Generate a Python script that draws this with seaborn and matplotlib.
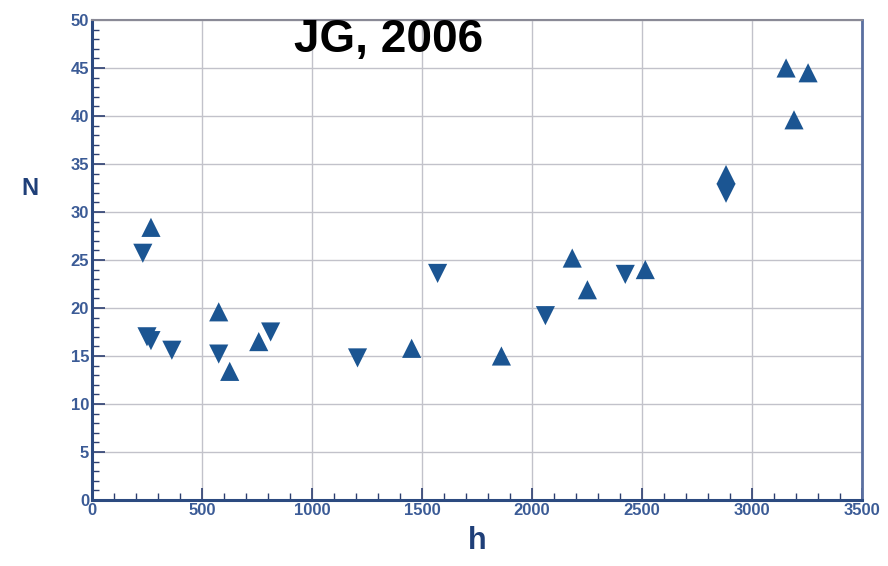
import seaborn as sns
import pandas as pd
import numpy as np
import matplotlib.pyplot as plt
from matplotlib.ticker import MultipleLocator

# точки
h_up = [268, 576, 626, 758, 1453, 1861, 2183, 2252, 2515, 2882, 3155, 3191, 3255]
n_up = [28.4, 19.6, 13.4, 16.5, 15.8, 15.0, 25.2, 21.9, 24.0, 33.9, 45.0, 39.6, 44.5]
h_down = [231, 250, 268, 363, 576, 812, 1207, 1571, 2061, 2424, 2882]
n_down = [25.7, 17.0, 16.6, 15.6, 15.2, 17.5, 14.8, 23.6, 19.2, 23.5, 31.95]

data = pd.DataFrame({
    'h': h_up + h_down,
    'N': n_up + n_down,
    'kind': ['up'] * len(h_up) + ['down'] * len(h_down),
})

sns.set_style('white')
plt.rcParams['font.family'] = ['Liberation Sans', 'DejaVu Sans']

blue = '#1b5592'
label_blue = '#3b5b96'

fig = plt.figure(figsize=(8.88, 5.66), dpi=100)
ax = fig.add_axes([0.1036, 0.1166, 0.8671, 0.8481])

sns.scatterplot(data=data, x='h', y='N', style='kind', markers={'up': '^', 'down': 'v'},
                color=blue, s=190, edgecolor='none', legend=False, ax=ax, zorder=3)

ax.set_xlim(0, 3500)
ax.set_ylim(0, 50)
ax.xaxis.set_major_locator(MultipleLocator(500))
ax.xaxis.set_minor_locator(MultipleLocator(100))
ax.yaxis.set_major_locator(MultipleLocator(5))
ax.yaxis.set_minor_locator(MultipleLocator(1))

ax.grid(True, which='major', color='#c2c2ca', linewidth=1.0)
ax.tick_params(which='both', bottom=True, left=True, top=False, right=False)
ax.tick_params(which='major', direction='in', length=9, width=1.2, color='#2c3e70',
               labelsize=12, labelcolor=label_blue, pad=2)
ax.tick_params(which='minor', direction='in', length=5, width=1, color='#2c3e70')
for lbl in ax.get_xticklabels() + ax.get_yticklabels():
    lbl.set_fontweight('bold')

for side in ['left', 'bottom']:
    ax.spines[side].set_color('#2c4a80')
    ax.spines[side].set_linewidth(2.2)
ax.spines['top'].set_color('#8a8a96')
ax.spines['top'].set_linewidth(1.5)
ax.spines['right'].set_color('#5a6fa0')
ax.spines['right'].set_linewidth(2)

ax.set_xlabel('h', fontsize=22, fontweight='bold', color='#1f3f78', labelpad=6)
ax.set_ylabel('N', fontsize=17, fontweight='bold', color='#1f3f78', rotation=0)
ax.yaxis.set_label_coords(-0.08, 0.625)

ax.text(1350, 47.9, 'JG, 2006', fontsize=33, fontweight='bold', color='black',
        ha='center', va='center', zorder=4)

plt.savefig('out.png', dpi=100)
